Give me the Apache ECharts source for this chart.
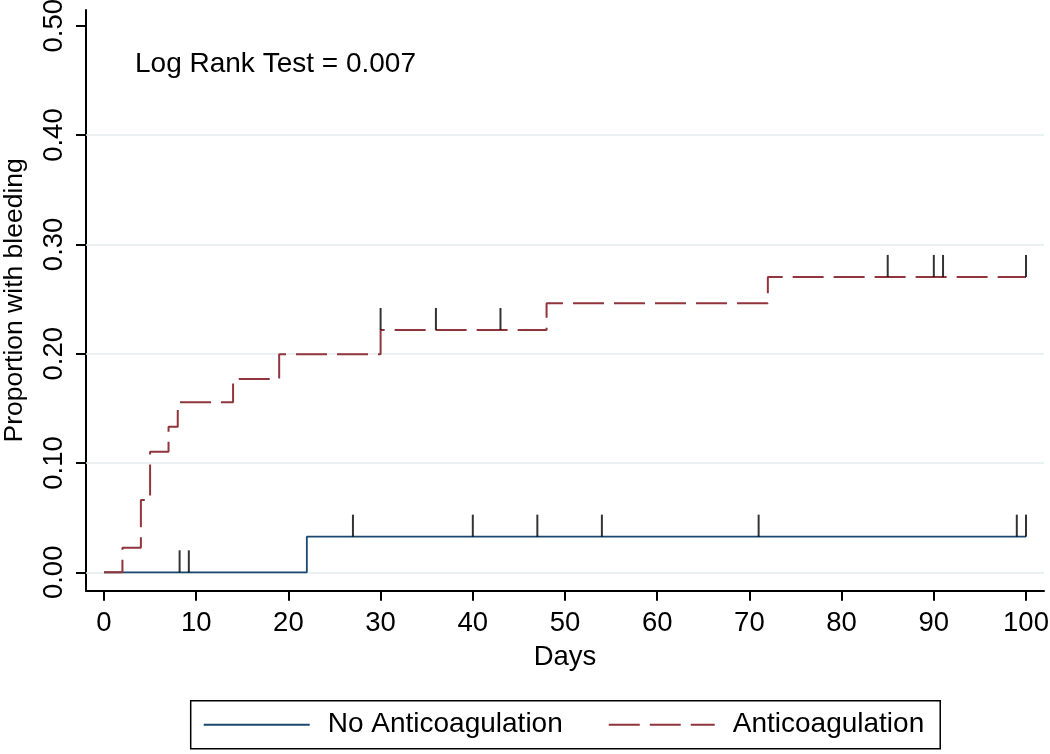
<!DOCTYPE html>
<html>
<head>
<meta charset="utf-8">
<script src="https://cdn.jsdelivr.net/npm/echarts@6/dist/echarts.min.js"></script>
<style>
  html, body { margin: 0; padding: 0; background: #fff; }
  #chart { width: 1050px; height: 754px; }
</style>
</head>
<body>
<div id="chart"></div>
<script>
// ---- Data ----
const noAnticoagulation = [[0, 0], [22, 0.0326], [100, 0.0326]];
const anticoagulation = [
  [0, 0], [2, 0.0225], [4, 0.0661], [5, 0.1103], [7, 0.1332], [8, 0.1555],
  [14, 0.1768], [19, 0.1994], [30, 0.2217], [48, 0.2461], [72, 0.2702], [100, 0.2702]
];
const censorNoAnticoag = [[8.2, 0], [9.2, 0], [27, 0.0326], [40, 0.0326], [47, 0.0326],
  [54, 0.0326], [71, 0.0326], [99, 0.0326], [100, 0.0326]];
const censorAnticoag = [[30, 0.2217], [36, 0.2217], [43, 0.2217], [85, 0.2702],
  [90, 0.2702], [91, 0.2702], [100, 0.2702]];
const xTicks = [0, 10, 20, 30, 40, 50, 60, 70, 80, 90, 100];
const yTicks = [0, 0.1, 0.2, 0.3, 0.4, 0.5];
const gridValues = [0, 0.1, 0.2, 0.3, 0.4];
const seriesNames = ['No Anticoagulation', 'Anticoagulation'];
const annotation = 'Log Rank Test = 0.007';

const FONT = '"Liberation Sans", Arial, sans-serif';
const BLUE = '#1a476f';
const RED = '#90353b';

const chart = echarts.init(document.getElementById('chart'), null, { renderer: 'canvas' });
chart.setOption({
  animation: false,
  backgroundColor: '#ffffff',
  textStyle: { fontFamily: FONT },
  grid: { left: 86, right: 6, top: 10, bottom: 163.3, containLabel: false, outerBoundsMode: 'none' },
  xAxis: {
    type: 'value',
    min: -1.952, max: 101.95,
    name: 'Days', nameLocation: 'middle', nameGap: 53,
    nameTextStyle: { fontSize: 27.5, color: '#000', fontFamily: FONT },
    axisLine: { show: true, onZero: false, lineStyle: { color: '#000', width: 2 } },
    axisTick: { show: true, customValues: xTicks, length: 10, lineStyle: { color: '#000', width: 2 } },
    axisLabel: { customValues: xTicks, fontSize: 27.5, color: '#000', margin: 19, fontFamily: FONT },
    splitLine: { show: false }
  },
  yAxis: {
    type: 'value',
    min: -0.01683, max: 0.5144,
    name: 'Proportion with bleeding', nameLocation: 'middle', nameGap: 58, nameRotate: 90,
    nameTextStyle: { fontSize: 26.5, color: '#000', fontFamily: FONT },
    axisLine: { show: true, onZero: false, lineStyle: { color: '#000', width: 2 } },
    axisTick: { show: true, customValues: yTicks, length: 10, lineStyle: { color: '#000', width: 2 } },
    axisLabel: {
      customValues: yTicks, rotate: 90, fontSize: 27.5, color: '#000', margin: 18, fontFamily: FONT,
      formatter: v => v.toFixed(2)
    },
    splitLine: { show: false }
  },
  legend: {
    data: seriesNames,
    left: 190.7, top: 700.7,
    orient: 'horizontal',
    itemWidth: 106, itemHeight: 20, itemGap: 45,
    padding: [10, 16, 10, 12],
    borderColor: '#000', borderWidth: 1.5, borderRadius: 0,
    backgroundColor: '#fff',
    itemStyle: { opacity: 0 },
    textStyle: { fontSize: 28, color: '#000', fontFamily: FONT, padding: [0, 0, 0, 13] }
  },
  graphic: [{
    type: 'text', left: 135, top: 50,
    style: { text: annotation, fontSize: 28, fill: '#000', font: '28px ' + FONT }
  }],
  series: [
    {
      type: 'line', name: '_grid', data: [], silent: true, z: 1,
      markLine: {
        z: 1, silent: true, symbol: ['none', 'none'], label: { show: false },
        lineStyle: { color: '#e3ecef', width: 1.6, type: 'solid' },
        data: gridValues.map(v => ({ yAxis: v }))
      }
    },
    {
      type: 'line', name: seriesNames[0], data: noAnticoagulation, step: 'end',
      symbol: 'none', showSymbol: false, z: 2,
      color: BLUE,
      lineStyle: { color: BLUE, width: 1.8, type: 'solid' }
    },
    {
      type: 'line', name: seriesNames[1], data: anticoagulation, step: 'end',
      symbol: 'none', showSymbol: false, z: 3,
      color: RED,
      lineStyle: { color: RED, width: 2, type: [31, 10] }
    },
    {
      type: 'scatter', name: '_c1', data: censorNoAnticoag, z: 4, silent: true,
      symbol: 'rect', symbolSize: [2, 22], symbolOffset: [0, -11],
      itemStyle: { color: '#000' }
    },
    {
      type: 'scatter', name: '_c2', data: censorAnticoag, z: 4, silent: true,
      symbol: 'rect', symbolSize: [2, 22], symbolOffset: [0, -11],
      itemStyle: { color: '#000' }
    }
  ]
});
</script>
</body>
</html>
